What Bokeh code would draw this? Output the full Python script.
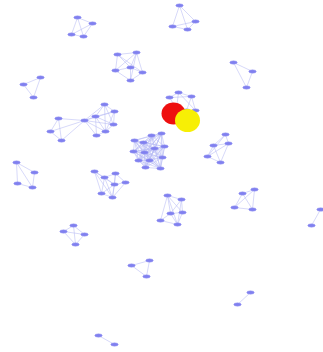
from itertools import combinations

from bokeh.embed import file_html
from bokeh.models import Range1d
from bokeh.plotting import figure
from bokeh.resources import INLINE

# Node positions per connected component (layout coordinates, y grows downward)
a_x = [77, 92, 71, 83]
a_y = [17, 23, 34, 36]
a_edges = [(0, 1), (0, 2), (0, 3), (1, 2), (1, 3), (2, 3)]

b_x = [117, 136, 115, 130, 142, 130]
b_y = [54, 52, 70, 67, 72, 80]
b_edges = [(0, 1), (0, 2), (0, 3), (1, 3), (1, 4), (1, 2), (2, 3), (2, 5),
           (3, 4), (3, 5), (4, 5), (0, 4), (1, 5)]

c_x = [40, 23, 33]
c_y = [77, 84, 97]
c_edges = [(0, 1), (1, 2), (0, 2)]

d_x = [58, 50, 61, 84, 104, 114, 95, 113, 96, 105]
d_y = [118, 131, 140, 120, 104, 111, 116, 124, 135, 131]
d_edges = [(0, 1), (1, 2), (0, 2), (0, 3), (1, 3), (2, 3), (3, 4), (3, 5),
           (3, 6), (3, 7), (3, 8), (3, 9), (4, 5), (4, 6), (4, 7), (4, 9),
           (5, 7), (5, 9), (6, 8), (6, 9), (6, 7), (7, 9), (8, 9), (5, 6)]

e_x = [179, 195, 172, 187]
e_y = [5, 21, 26, 29]
e_edges = [(0, 2), (0, 3), (0, 1), (1, 2), (2, 3), (1, 3)]

f_x = [233, 252, 246]
f_y = [62, 71, 87]
f_edges = [(0, 1), (1, 2), (0, 2)]

g_x = [178, 169, 191, 195, 176, 186]
g_y = [92, 97, 96, 110, 108, 110]
g_edges = [(0, 1), (0, 2), (1, 2), (0, 3), (2, 3), (1, 4), (0, 4), (2, 5),
           (3, 5), (4, 5)]

# dense core: every member linked to every other
core_x = [134, 143, 151, 161, 133, 144, 154, 164, 138, 149, 162, 145, 160]
core_y = [140, 142, 135, 133, 151, 152, 148, 146, 160, 160, 157, 167, 168]
core_edges = list(combinations(range(len(core_x)), 2))

h_x = [225, 213, 228, 207, 220]
h_y = [134, 145, 143, 156, 162]
h_edges = [(0, 1), (0, 2), (1, 2), (1, 3), (1, 4), (2, 4), (3, 4), (0, 3), (2, 3)]

i_x = [242, 254, 234, 252]
i_y = [193, 189, 207, 209]
i_edges = [(0, 1), (0, 2), (0, 3), (1, 3), (2, 3), (1, 2)]

j_x = [320, 311]
j_y = [209, 225]
j_edges = [(0, 1)]

k_x = [167, 181, 170, 182, 160, 177]
k_y = [195, 199, 213, 212, 220, 224]
k_edges = [(0, 1), (0, 2), (0, 3), (0, 4), (0, 5), (1, 2), (1, 3), (2, 3),
           (2, 4), (2, 5), (3, 5), (4, 5), (1, 5)]

l_x = [16, 34, 17, 32]
l_y = [162, 172, 183, 187]
l_edges = [(0, 2), (0, 1), (0, 3), (1, 3), (2, 3)]

m_x = [94, 104, 115, 114, 125, 101, 112]
m_y = [171, 177, 173, 184, 182, 193, 197]
m_edges = [(0, 1), (0, 3), (0, 5), (1, 2), (1, 3), (1, 5), (1, 6), (2, 3),
           (2, 4), (3, 4), (3, 5), (3, 6), (4, 6), (5, 6), (2, 6), (0, 6)]

n_x = [73, 63, 84, 75]
n_y = [225, 231, 234, 244]
n_edges = [(0, 1), (0, 2), (0, 3), (1, 2), (2, 3), (1, 3)]

o_x = [131, 149, 146]
o_y = [265, 260, 276]
o_edges = [(0, 2), (1, 2), (0, 1)]

p_x = [98, 114]
p_y = [335, 344]
p_edges = [(0, 1)]

q_x = [250, 237]
q_y = [292, 304]
q_edges = [(0, 1)]

# two highlighted nodes drawn large on top
hi_x = [173, 187]
hi_y = [113, 120]
hi_colors = ["#ee0f0f", "#f7ef05"]

components = [
    (a_x, a_y, a_edges), (b_x, b_y, b_edges), (c_x, c_y, c_edges),
    (d_x, d_y, d_edges), (e_x, e_y, e_edges), (f_x, f_y, f_edges),
    (g_x, g_y, g_edges), (core_x, core_y, core_edges), (h_x, h_y, h_edges),
    (i_x, i_y, i_edges), (j_x, j_y, j_edges), (k_x, k_y, k_edges),
    (l_x, l_y, l_edges), (m_x, m_y, m_edges), (n_x, n_y, n_edges),
    (o_x, o_y, o_edges), (p_x, p_y, p_edges), (q_x, q_y, q_edges),
]

x0, y0, x1, y1 = [], [], [], []
nx, ny = [], []
for xs, ys, edges in components:
    for s, t in edges:
        x0.append(xs[s]); y0.append(ys[s])
        x1.append(xs[t]); y1.append(ys[t])
    nx.extend(xs)
    ny.extend(ys)

W, H = 323, 352
p = figure(width=W, height=H, output_backend="svg", toolbar_location=None,
           x_range=Range1d(0, W), y_range=Range1d(H, 0), min_border=0)
p.axis.visible = False
p.grid.visible = False
p.outline_line_color = None
p.background_fill_color = "white"
p.border_fill_color = "white"

p.segment(x0=x0, y0=y0, x1=x1, y1=y1, line_color="#b8baf4",
          line_width=0.7, line_alpha=0.8)
p.ellipse(x=nx, y=ny, width=7.5, height=3.4, fill_color="#8080ef",
          line_color="#9c9cf3", line_width=0.5)
p.ellipse(x=hi_x, y=hi_y, width=[24, 25], height=[22, 23],
          fill_color=hi_colors, line_color=None)

open("out.html", "w").write(file_html(p, INLINE))
